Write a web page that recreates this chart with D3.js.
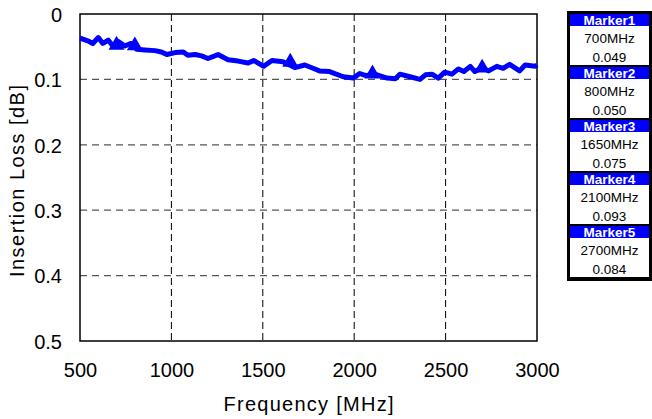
<!DOCTYPE html>
<html>
<head>
<meta charset="utf-8">
<script src="https://cdn.jsdelivr.net/npm/d3@7"></script>
<style>
  body { margin: 0; background: #fff; }
  svg { display: block; }
  .tick-label { font-family: "Liberation Sans", Arial, sans-serif; font-size: 20px; fill: #000; }
  .axis-title { font-family: "Liberation Sans", Arial, sans-serif; font-size: 20px; fill: #000; }
  .legend text { font-family: "Liberation Sans", Arial, sans-serif; font-size: 13.5px; }
</style>
</head>
<body>
<div id="chart"></div>
<script>
// trace
const freq = [500, 550, 570, 600, 625, 655, 680, 710, 745, 780, 810, 855, 910, 945, 975, 1020, 1065, 1090,
  1130, 1165, 1200, 1255, 1310, 1365, 1420, 1450, 1505, 1550, 1610, 1675, 1730, 1775, 1810, 1865, 1940,
  1995, 2030, 2060, 2125, 2180, 2225, 2250, 2305, 2360, 2390, 2425, 2460, 2495, 2535, 2570, 2600, 2635,
  2660, 2700, 2735, 2780, 2815, 2850, 2905, 2935, 2990, 3000];
const loss = [0.037, 0.042, 0.045, 0.036, 0.045, 0.040, 0.049, 0.042, 0.049, 0.045, 0.054, 0.055, 0.056,
  0.058, 0.062, 0.059, 0.058, 0.063, 0.062, 0.064, 0.068, 0.062, 0.070, 0.072, 0.075, 0.071, 0.080, 0.071,
  0.073, 0.082, 0.078, 0.083, 0.087, 0.088, 0.096, 0.098, 0.091, 0.094, 0.093, 0.098, 0.099, 0.092, 0.096,
  0.100, 0.093, 0.092, 0.098, 0.089, 0.092, 0.084, 0.088, 0.080, 0.088, 0.082, 0.087, 0.080, 0.083, 0.077,
  0.087, 0.078, 0.080, 0.078];

const markerNames = ['Marker1', 'Marker2', 'Marker3', 'Marker4', 'Marker5'];
const markerFreqs = [700, 800, 1650, 2100, 2700];
const markerValues = ['0.049', '0.050', '0.075', '0.093', '0.084'];

const xTicks = [500, 1000, 1500, 2000, 2500, 3000];
const yTicks = [0, 0.1, 0.2, 0.3, 0.4, 0.5];

const width = 652, height = 419;
const margin = {top: 14, right: 115, bottom: 78, left: 80};
const w = 537 - margin.left, h = 341 - margin.top;

const svg = d3.select('#chart').append('svg')
  .attr('width', width)
  .attr('height', height);

const g = svg.append('g')
  .attr('transform', `translate(${margin.left},${margin.top})`);

const x = d3.scaleLinear().domain([500, 3000]).range([0, w]);
const y = d3.scaleLinear().domain([0, 0.5]).range([0, h]);

// grid
g.selectAll('.vgrid').data(xTicks.slice(1, -1)).join('line')
  .attr('x1', d => x(d)).attr('x2', d => x(d))
  .attr('y1', 0).attr('y2', h)
  .attr('stroke', '#000').attr('stroke-width', 1)
  .attr('stroke-dasharray', '7,4');
g.selectAll('.hgrid').data(yTicks.slice(1, -1)).join('line')
  .attr('x1', 0).attr('x2', w)
  .attr('y1', d => y(d)).attr('y2', d => y(d))
  .attr('stroke', '#555').attr('stroke-width', 1.2)
  .attr('stroke-dasharray', '7,5');

// axes, labels only
const xAxis = d3.axisBottom(x).tickValues(xTicks).tickSize(0).tickPadding(22).tickFormat(d3.format('d'));
const yAxis = d3.axisLeft(y).tickValues(yTicks).tickSize(0).tickPadding(18).tickFormat(d => d === 0 ? '0' : d3.format('.1f')(d));

const xAxisG = g.append('g').attr('transform', `translate(0,${h})`).call(xAxis);
const yAxisG = g.append('g').call(yAxis);
[xAxisG, yAxisG].forEach(a => {
  a.select('.domain').remove();
  a.selectAll('text').attr('class', 'tick-label').attr('font-family', null).attr('font-size', null);
});
yAxisG.selectAll('text').attr('dy', '0.36em');

// frame
g.append('rect')
  .attr('width', w).attr('height', h)
  .attr('fill', 'none').attr('stroke', '#000').attr('stroke-width', 1.5);

// trace
const line = d3.line().x((d, i) => x(freq[i])).y(d => y(d));
g.append('path')
  .datum(loss)
  .attr('d', line)
  .attr('fill', 'none')
  .attr('stroke', '#0000ff')
  .attr('stroke-width', 5)
  .attr('stroke-linejoin', 'round');

// marker triangles
g.selectAll('.marker').data(markerFreqs).join('path')
  .attr('d', d3.symbol(d3.symbolTriangle, 110))
  .attr('transform', (d, i) => `translate(${x(d)},${y(+markerValues[i]) - 1})`)
  .attr('fill', '#0000ff');

// axis titles
svg.append('text')
  .attr('class', 'axis-title')
  .attr('x', margin.left + w / 2).attr('y', 411)
  .attr('text-anchor', 'middle')
  .attr('textLength', 170).attr('lengthAdjust', 'spacing')
  .text('Frequency [MHz]');
svg.append('text')
  .attr('class', 'axis-title')
  .attr('transform', 'translate(24,181) rotate(-90)')
  .attr('text-anchor', 'middle')
  .attr('textLength', 192).attr('lengthAdjust', 'spacing')
  .text('Insertion Loss [dB]');

// marker table
const leg = svg.append('g').attr('class', 'legend');
const lx = 567, lw = 85, step = 53, top0 = 14;
leg.append('rect')
  .attr('x', lx).attr('y', 11)
  .attr('width', lw).attr('height', top0 + step * 5 - 2 + 4 - 11)
  .attr('fill', '#000');
const blocks = leg.selectAll('.blk').data(markerNames).join('g')
  .attr('transform', (d, i) => `translate(0,${top0 + i * step})`);
blocks.append('rect')
  .attr('x', lx + 3).attr('y', 0).attr('width', lw - 6).attr('height', 12)
  .attr('fill', '#0000ff');
blocks.append('rect')
  .attr('x', lx + 3).attr('y', 12).attr('width', lw - 6).attr('height', 39)
  .attr('fill', '#fff');
blocks.append('text')
  .attr('x', lx + lw / 2).attr('y', 11)
  .attr('text-anchor', 'middle')
  .attr('font-weight', 'bold')
  .attr('font-size', '13px')
  .attr('fill', '#fff')
  .text(d => d);
blocks.append('text')
  .attr('x', lx + lw / 2).attr('y', 29)
  .attr('text-anchor', 'middle')
  .attr('fill', '#000')
  .text((d, i) => markerFreqs[i] + 'MHz');
blocks.append('text')
  .attr('x', lx + lw / 2).attr('y', 47.5)
  .attr('text-anchor', 'middle')
  .attr('fill', '#000')
  .text((d, i) => markerValues[i]);
</script>
</body>
</html>
